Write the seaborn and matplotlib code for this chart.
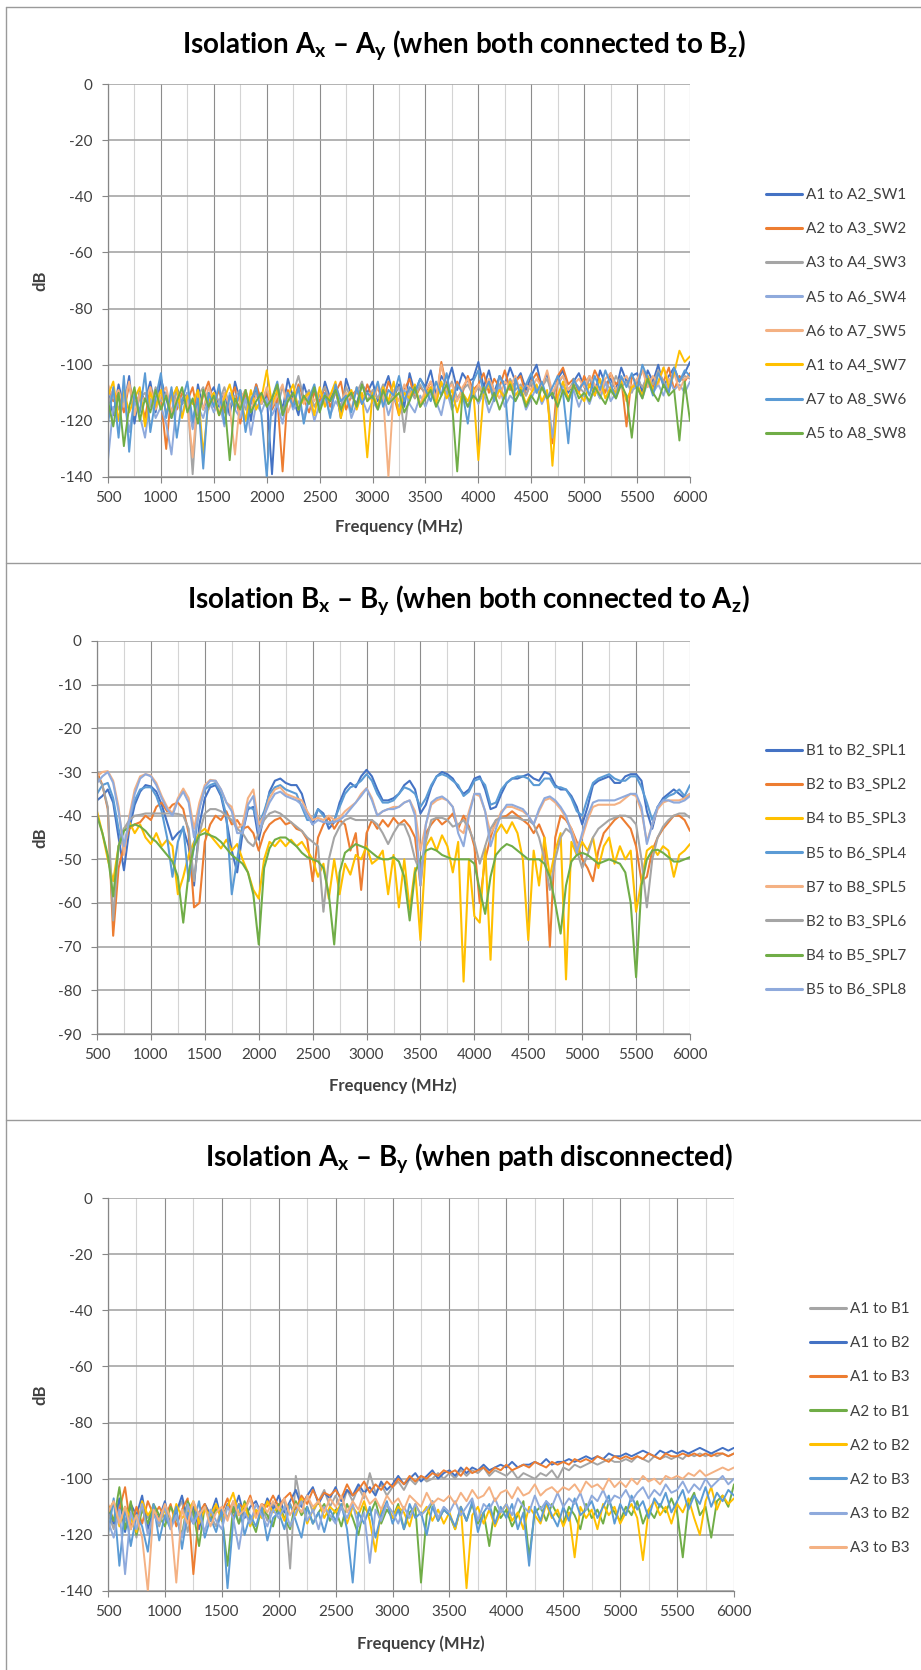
import numpy as np
import pandas as pd
import matplotlib
matplotlib.use("Agg")
import matplotlib.pyplot as plt
from matplotlib.lines import Line2D
from matplotlib.ticker import MultipleLocator
import seaborn as sns

# ---------------------------------------------------------------- data
F_START, F_STOP = 500, 6000   # MHz sweep, 50 MHz steps

# Panel 1 : Isolation Ax - Ay
P1_NAMES = ["A1 to A2_SW1", "A2 to A3_SW2", "A3 to A4_SW3", "A5 to A6_SW4",
            "A6 to A7_SW5", "A1 to A4_SW7", "A7 to A8_SW6", "A5 to A8_SW8"]
p1_sw1 = [-110, -118, -107, -115, -104, -121, -109, -113, -106, -117,
          -105, -112, -119, -108, -114, -110, -122, -107, -116, -111,
          -108, -115, -110, -118, -106, -113, -109, -120, -107, -114,
          -111, -139, -108, -116, -105, -112, -118, -107, -113, -109,
          -115, -106, -112, -108, -119, -105, -111, -114, -107, -110,
          -106, -113, -109, -104, -112, -107, -115, -103, -110, -105,
          -108, -102, -111, -104, -107, -101, -109, -103, -106, -105,
          -99, -108, -102, -110, -104, -107, -101, -106, -103, -109,
          -104, -100, -108, -103, -112, -105, -102, -110, -106, -103,
          -108, -104, -111, -102, -107, -105, -109, -101, -106, -104,
          -103, -110, -102, -106, -100, -108, -104, -101, -106, -103,
          -99]
p1_sw2 = [-108, -113, -110, -117, -107, -114, -111, -119, -108, -115,
          -112, -130, -109, -116, -110, -113, -108, -118, -111, -106,
          -114, -109, -117, -112, -108, -121, -110, -114, -107, -113,
          -110, -116, -112, -138, -109, -114, -107, -112, -117, -110,
          -113, -108, -115, -110, -106, -116, -111, -109, -114, -107,
          -112, -108, -114, -106, -111, -118, -109, -105, -112, -108,
          -110, -106, -113, -99, -108, -112, -106, -110, -104, -109,
          -107, -103, -110, -105, -108, -102, -109, -106, -104, -111,
          -106, -103, -108, -112, -128, -104, -101, -107, -105, -110,
          -104, -108, -102, -106, -110, -103, -107, -105, -122, -104,
          -107, -102, -105, -108, -103, -106, -101, -109, -104, -106,
          -103]
p1_sw3 = [-114, -109, -116, -111, -107, -118, -112, -110, -115, -108,
          -113, -110, -117, -109, -114, -112, -139, -111, -108, -116,
          -110, -113, -108, -115, -111, -109, -116, -112, -110, -114,
          -109, -112, -115, -108, -113, -110, -104, -112, -109, -115,
          -111, -108, -113, -110, -115, -108, -112, -110, -106, -113,
          -109, -112, -107, -114, -110, -108, -124, -109, -112, -107,
          -111, -108, -113, -107, -110, -106, -112, -109, -107, -111,
          -108, -111, -106, -110, -107, -112, -105, -109, -107, -111,
          -106, -110, -108, -105, -111, -107, -104, -109, -106, -108,
          -110, -105, -108, -112, -106, -109, -104, -108, -106, -110,
          -105, -108, -104, -107, -102, -106, -109, -103, -106, -104,
          -105]
p1_sw4 = [-134, -115, -120, -111, -124, -113, -118, -126, -112, -119,
          -115, -121, -132, -113, -118, -110, -123, -115, -119, -112,
          -117, -113, -122, -110, -116, -119, -112, -125, -114, -117,
          -112, -118, -114, -121, -110, -116, -113, -119, -111, -120,
          -114, -111, -118, -113, -116, -110, -119, -114, -112, -117,
          -113, -116, -110, -118, -112, -115, -109, -114, -117, -111,
          -115, -110, -113, -118, -109, -116, -112, -111, -115, -109,
          -114, -110, -117, -112, -108, -115, -111, -113, -109, -116,
          -112, -108, -114, -110, -126, -112, -107, -113, -109, -115,
          -110, -114, -108, -112, -106, -113, -110, -107, -112, -109,
          -108, -112, -106, -110, -107, -111, -105, -109, -107, -110,
          -106]
p1_sw5 = [-107, -112, -109, -115, -106, -118, -110, -113, -108, -116,
          -111, -108, -117, -112, -109, -114, -133, -110, -116, -108,
          -113, -118, -110, -115, -132, -112, -109, -116, -111, -114,
          -108, -115, -111, -107, -117, -112, -109, -114, -110, -113,
          -109, -114, -111, -107, -113, -110, -116, -108, -112, -110,
          -113, -108, -111, -140, -109, -113, -107, -111, -108, -114,
          -109, -106, -112, -100, -109, -107, -113, -108, -105, -111,
          -107, -110, -105, -109, -112, -106, -108, -104, -110, -107,
          -109, -105, -108, -102, -110, -106, -104, -109, -107, -105,
          -108, -104, -107, -110, -105, -103, -109, -106, -104, -108,
          -105, -102, -108, -104, -107, -101, -106, -103, -109, -105,
          -104]
p1_sw7 = [-111, -106, -120, -109, -117, -112, -108, -122, -110, -115,
          -109, -117, -112, -108, -119, -111, -114, -109, -132, -113,
          -110, -118, -112, -107, -115, -111, -120, -109, -116, -112,
          -102, -114, -109, -117, -111, -107, -116, -112, -110, -118,
          -108, -115, -111, -106, -119, -112, -109, -116, -110, -133,
          -110, -115, -108, -113, -106, -118, -110, -112, -107, -115,
          -111, -108, -114, -106, -112, -109, -117, -110, -113, -108,
          -134, -110, -107, -113, -109, -112, -106, -111, -108, -114,
          -110, -107, -113, -109, -136, -111, -106, -112, -108, -110,
          -113, -107, -111, -105, -112, -108, -110, -106, -113, -108,
          -107, -111, -104, -109, -106, -101, -108, -103, -95, -99,
          -97]
p1_sw6 = [-121, -108, -126, -104, -131, -110, -117, -103, -124, -112,
          -103, -119, -108, -126, -113, -106, -120, -112, -137, -110,
          -115, -107, -121, -111, -116, -109, -124, -113, -108, -118,
          -140, -112, -106, -118, -110, -115, -108, -121, -112, -107,
          -116, -110, -119, -107, -113, -111, -117, -108, -114, -110,
          -112, -106, -115, -109, -111, -104, -113, -108, -110, -105,
          -109, -113, -106, -111, -103, -114, -107, -110, -121, -106,
          -102, -110, -106, -113, -104, -108, -132, -105, -111, -107,
          -103, -110, -106, -112, -108, -104, -110, -128, -105, -109,
          -106, -111, -104, -109, -102, -107, -112, -104, -108, -103,
          -109, -100, -105, -111, -103, -107, -110, -101, -106, -102,
          -104]
p1_sw8 = [-113, -122, -110, -129, -115, -108, -120, -112, -117, -109,
          -116, -111, -119, -113, -108, -117, -112, -121, -109, -115,
          -111, -118, -113, -134, -112, -116, -109, -117, -113, -110,
          -115, -112, -107, -118, -113, -110, -116, -111, -114, -108,
          -117, -111, -113, -109, -116, -112, -110, -115, -107, -113,
          -111, -116, -109, -114, -112, -110, -117, -113, -108, -115,
          -112, -109, -115, -111, -107, -113, -138, -110, -115, -111,
          -113, -108, -114, -110, -116, -111, -107, -113, -109, -115,
          -111, -114, -108, -112, -110, -115, -109, -113, -107, -112,
          -110, -113, -108, -111, -114, -109, -112, -107, -111, -126,
          -108, -112, -105, -110, -113, -107, -111, -109, -127, -106,
          -120]
P1_SERIES = [p1_sw1, p1_sw2, p1_sw3, p1_sw4, p1_sw5, p1_sw7, p1_sw6, p1_sw8]

# Panel 2 : Isolation Bx - By
P2_NAMES = ["B1 to B2_SPL1", "B2 to B3_SPL2", "B4 to B5_SPL3", "B5 to B6_SPL4",
            "B7 to B8_SPL5", "B2 to B3_SPL6", "B4 to B5_SPL7", "B5 to B6_SPL8"]
p2_spl1 = [-36.5, -35.5, -34, -37, -45, -52.5, -43, -37.5, -34.5, -33,
           -33.3, -34.5, -37.5, -41.5, -45.5, -44, -43, -47, -56, -42,
           -36, -33.5, -33, -35.5, -41, -48, -53, -44, -38.5, -38,
           -45.5, -40, -34.5, -32, -31.5, -32.5, -33, -33, -35, -39.5,
           -42, -38.5, -39.5, -43, -41.5, -37, -34, -32.5, -33.5, -31,
           -29.5, -31, -34, -36.5, -36.5, -36, -35, -33, -32, -34,
           -39.5, -37.5, -33.5, -31, -30, -30.5, -31.5, -33.5, -35, -34,
           -31.5, -31, -34, -38.5, -38, -35, -32.5, -31.5, -31.5, -31,
           -30.5, -31.5, -32, -30, -30.5, -33, -34, -34, -35.5, -38,
           -42, -38, -33, -32, -31.5, -31, -32.5, -32.5, -31, -30.5,
           -30.5, -32, -39, -43, -38, -36, -35, -34, -35, -36,
           -35]
p2_spl2 = [-30, -33, -38.5, -67.5, -52, -47, -43, -42, -41.5, -40,
           -41, -38, -37, -39, -37.5, -37, -38.5, -44, -61, -60,
           -46, -42, -40, -41, -39, -42, -41, -43, -42.5, -44,
           -48, -44, -42, -41, -40.5, -42, -41.5, -43, -43.5, -45.5,
           -55, -45, -42, -40.5, -43, -41, -42, -48, -44, -57,
           -44, -41, -43, -41, -42.5, -40.5, -42, -41, -42.5, -45,
           -56, -44, -42, -40.5, -42, -41, -39.5, -43, -40, -42.5,
           -47, -60, -50, -45, -41, -40.5, -40, -39, -40, -41,
           -42, -44, -42, -45, -70, -45, -40, -41, -43, -46,
           -50, -52, -55, -48, -44, -42.5, -41, -40, -41.5, -43,
           -47, -55, -54, -48, -45, -43, -41.5, -40, -40, -41,
           -43.5]
p2_spl3 = [-39, -44, -50, -55, -47, -43, -41.5, -44, -42, -45,
           -46.5, -44, -47, -45.5, -47, -58, -54, -49, -46, -44,
           -43, -44.5, -46, -47.5, -45.5, -48, -46.5, -50, -53, -57,
           -59, -50, -46, -47, -45.5, -47, -45.5, -47, -46, -48,
           -50, -54, -51, -59, -50, -58, -51, -53.5, -49, -50,
           -47, -51, -50, -48, -58, -49, -61, -50, -61.5, -52,
           -68.5, -47, -45, -48, -44.5, -47, -53, -46, -78, -50,
           -63, -64.5, -47, -73, -44, -42, -44, -41.5, -44, -50,
           -68.5, -48, -56, -45, -54, -48, -44, -77.5, -46, -49,
           -46, -48, -45, -52, -47, -45, -51, -47, -50, -48,
           -62, -55, -48, -47, -49, -47, -48, -54, -49, -48,
           -46.5]
p2_spl4 = [-35, -33, -32.5, -36, -43, -48, -41, -36.5, -34, -33.5,
           -33.5, -35.5, -39, -45, -54, -46, -42.5, -55, -47, -38,
           -34, -33, -32.5, -35, -40, -58, -50, -42, -38, -38.5,
           -42, -39, -35, -33.5, -33, -34, -34.5, -35, -38, -41,
           -41, -38.5, -40, -42, -41, -38, -35, -33.5, -33, -32,
           -30.5, -32, -35, -37, -37, -36.5, -35, -33.5, -34, -35,
           -38, -36, -33, -31, -30.5, -31, -32, -33, -35.5, -34.5,
           -32, -31.5, -33, -37.5, -37, -34, -32.5, -31.5, -31, -31,
           -31.5, -33, -33, -31.5, -31.5, -33.5, -33.5, -34, -36, -39,
           -40, -36, -32.5, -31.5, -31, -30.5, -31.5, -32, -32, -31,
           -31, -33.5, -37, -41, -38, -36.5, -35.5, -35, -34, -35.5,
           -33]
p2_spl5 = [-31, -30, -29.8, -32, -38, -49, -40, -34, -31, -30.5,
           -30.8, -32.5, -35.5, -38, -39.5, -36, -33.8, -36, -43, -37,
           -33, -31.8, -32, -34, -37, -38, -43, -42, -36, -34,
           -42, -40, -36, -34, -33.5, -35, -35.5, -36, -36.5, -39,
           -41, -40.5, -41, -40, -41, -40.5, -39, -38, -37, -35,
           -33.7, -36, -40, -39, -38.5, -38, -38, -37, -36.5, -39,
           -48, -42, -37.5, -36.5, -36, -36.5, -38, -43, -44, -39,
           -35, -35.5, -39, -44, -42, -39, -38, -38, -38.5, -39,
           -40, -42, -39, -36.5, -36, -37, -38.5, -40.5, -43, -47,
           -45, -41, -38, -37.5, -37.5, -37.5, -37.5, -37, -36, -35,
           -35.5, -39, -46, -42, -38.5, -37, -36.5, -36.5, -36.5, -36,
           -35]
p2_spl6 = [-31, -33, -38, -64, -47, -43, -41, -40, -39.8, -39.5,
           -39.5, -39.5, -39.5, -39.5, -39.5, -39.6, -40, -43, -55, -44,
           -39.5, -38.5, -38.5, -39, -40, -41, -43, -44, -46, -47,
           -44, -41, -39.5, -39, -39.5, -40.5, -41.5, -42.5, -43.5, -45,
           -46, -47, -62, -50, -45, -42.5, -41, -40.5, -41, -41,
           -41, -41, -42, -44, -46.5, -44, -42, -42, -45, -50,
           -53, -46, -41, -40.5, -40.5, -41, -42.5, -42, -41, -43,
           -46, -51, -47, -43, -41, -40.5, -40.5, -40.5, -40.5, -41,
           -41, -42, -45, -50, -57, -50, -45, -43, -44, -48,
           -52, -49, -45, -43, -42, -41, -40.5, -40, -40, -40.5,
           -42, -50, -61, -50, -45, -42.5, -41, -40, -39.5, -39.5,
           -40.5]
p2_spl7 = [-40, -44, -49, -58.5, -47, -43.5, -42.5, -42, -42.5, -43.5,
           -45, -46, -47.5, -49, -50.5, -54, -64.5, -53, -47, -44.5,
           -44, -44.5, -45, -46, -47.5, -49, -50, -51, -53, -58,
           -69.5, -52, -47.5, -45.5, -45, -45, -46, -47, -48.5, -49.5,
           -50, -50.5, -52, -58, -69.5, -53, -48.5, -47.5, -46.5, -47,
           -47.5, -48.5, -49.5, -50, -50, -49.5, -50.5, -54, -64, -53,
           -50, -48, -47.5, -48, -49, -49.5, -50, -50, -50, -50,
           -51, -57, -62.5, -54, -49, -47.5, -46.5, -47, -48, -49,
           -50, -50, -50, -51, -54, -60, -67, -56, -50.5, -49,
           -48.5, -49, -50, -51, -50.5, -50, -50.5, -51, -53, -60,
           -77, -56, -50, -48, -47.8, -48.5, -49.5, -50.5, -50.5, -50,
           -49.5]
p2_spl8 = [-32.5, -31, -30, -32.5, -39, -47, -41, -35, -31.5, -30.5,
           -31, -33, -36, -38.5, -40, -36.5, -34.5, -37, -45, -38.5,
           -33.5, -32, -32, -34, -37, -39, -44, -44, -37.5, -35.5,
           -44, -40, -37, -35, -34.5, -35.5, -36, -36.5, -37.5, -40,
           -42, -41, -41.5, -41.5, -41.5, -41, -40, -38.5, -37, -35.5,
           -33.8, -36.5, -40, -39, -38.5, -38.5, -38, -37, -36.5, -40,
           -56, -42, -37, -36, -35.6, -36.5, -38, -44, -47, -40,
           -35, -35, -39, -47, -43, -39.5, -37.5, -37.5, -38, -38.5,
           -40, -42, -38.5, -36, -35.6, -36.5, -38, -40, -44, -48.5,
           -44, -40, -37, -36.5, -36.5, -36.5, -36.5, -36, -35.5, -35,
           -35, -38, -46.5, -42, -38, -36.5, -36.5, -37, -37, -36.5,
           -35.5]
P2_SERIES = [p2_spl1, p2_spl2, p2_spl3, p2_spl4, p2_spl5, p2_spl6, p2_spl7, p2_spl8]

# Panel 3 : Isolation Ax - By
P3_NAMES = ["A1 to B1", "A1 to B2", "A1 to B3", "A2 to B1",
            "A2 to B2", "A2 to B3", "A3 to B2", "A3 to B3"]
p3_a1b1 = [-112, -118, -108, -115, -110, -121, -109, -114, -111, -117,
           -110, -116, -112, -108, -119, -111, -115, -109, -113, -117,
           -110, -114, -108, -116, -111, -107, -113, -110, -115, -109,
           -112, -107, -132, -99, -110, -106, -112, -108, -104, -110,
           -106, -111, -104, -108, -103, -107, -98, -105, -102, -106,
           -103, -101, -104, -100, -102, -99, -101, -100, -98, -100,
           -98, -100, -97, -99, -97, -98, -96, -99, -97, -98,
           -99, -97, -100, -98, -99, -100, -98, -99, -97, -100,
           -96, -97, -95, -96, -95, -94, -95, -94, -93, -94,
           -94, -93, -94, -92, -93, -94, -92, -93, -92, -93,
           -92, -93, -91, -92, -91, -92, -91, -92, -91, -92,
           -91]
p3_a1b2 = [-110, -116, -107, -119, -109, -113, -106, -118, -111, -114,
           -108, -117, -112, -106, -115, -110, -118, -109, -113, -107,
           -115, -109, -112, -106, -114, -110, -108, -113, -107, -111,
           -106, -112, -108, -104, -110, -106, -103, -109, -105, -107,
           -103, -108, -104, -106, -102, -105, -103, -106, -101, -104,
           -102, -99, -102, -100, -98, -101, -99, -97, -100, -98,
           -97, -99, -96, -98, -96, -97, -95, -97, -96, -95,
           -96, -94, -96, -95, -95, -94, -95, -93, -95, -94,
           -94, -93, -94, -93, -92, -93, -92, -93, -91, -92,
           -92, -91, -92, -91, -90, -91, -92, -90, -91, -90,
           -91, -90, -91, -90, -89, -90, -91, -90, -89, -90,
           -89]
p3_a1b3 = [-109, -115, -111, -103, -118, -110, -116, -108, -113, -110,
           -114, -109, -117, -111, -107, -134, -112, -109, -115, -110,
           -112, -107, -114, -109, -111, -106, -113, -109, -110, -106,
           -110, -107, -105, -111, -106, -109, -104, -108, -105, -106,
           -104, -107, -102, -106, -104, -101, -105, -102, -104, -101,
           -103, -100, -102, -99, -101, -99, -100, -98, -99, -97,
           -98, -97, -99, -96, -98, -97, -96, -98, -96, -97,
           -95, -97, -96, -95, -96, -94, -95, -96, -94, -95,
           -94, -95, -93, -94, -93, -94, -92, -93, -94, -92,
           -93, -92, -93, -92, -93, -91, -92, -93, -91, -92,
           -92, -91, -92, -91, -92, -91, -92, -91, -91, -92,
           -91]
p3_a2b1 = [-110, -115, -103, -118, -108, -120, -111, -116, -109, -113,
           -117, -110, -114, -120, -108, -112, -124, -110, -115, -111,
           -113, -131, -110, -116, -108, -114, -119, -110, -113, -117,
           -109, -114, -118, -108, -113, -110, -116, -112, -109, -115,
           -111, -117, -109, -114, -120, -110, -113, -108, -116, -111,
           -114, -109, -118, -112, -110, -137, -113, -108, -115, -111,
           -113, -118, -110, -115, -109, -116, -112, -124, -110, -114,
           -111, -117, -113, -108, -128, -112, -110, -115, -109, -113,
           -116, -110, -113, -118, -109, -114, -111, -116, -108, -112,
           -115, -110, -113, -108, -116, -111, -114, -109, -112, -107,
           -112, -128, -109, -105, -113, -110, -121, -108, -106, -110,
           -102]
p3_a2b2 = [-112, -108, -117, -110, -114, -119, -108, -113, -110, -116,
           -111, -117, -109, -114, -112, -108, -116, -111, -113, -109,
           -115, -110, -105, -113, -109, -117, -111, -114, -108, -112,
           -110, -115, -109, -113, -107, -116, -111, -108, -114, -110,
           -112, -109, -116, -110, -113, -108, -115, -126, -111, -109,
           -114, -110, -112, -117, -109, -113, -110, -115, -111, -116,
           -112, -118, -110, -139, -113, -110, -116, -111, -117, -112,
           -109, -115, -112, -118, -110, -113, -116, -109, -114, -111,
           -117, -112, -128, -110, -114, -111, -118, -109, -113, -110,
           -116, -112, -109, -114, -129, -111, -108, -113, -110, -116,
           -109, -112, -107, -114, -120, -108, -103, -111, -106, -109,
           -107]
p3_a2b3 = [-120, -107, -131, -110, -124, -113, -117, -126, -109, -122,
           -113, -118, -110, -125, -112, -116, -108, -121, -114, -119,
           -111, -139, -115, -109, -120, -113, -117, -110, -122, -114,
           -112, -118, -109, -115, -121, -110, -116, -112, -119, -111,
           -115, -109, -118, -137, -112, -116, -110, -121, -113, -108,
           -116, -111, -118, -109, -114, -112, -120, -110, -115, -111,
           -113, -117, -110, -115, -108, -119, -112, -109, -116, -110,
           -114, -109, -118, -112, -131, -110, -115, -108, -113, -117,
           -110, -115, -107, -113, -111, -108, -114, -110, -106, -116,
           -109, -113, -106, -111, -108, -114, -107, -110, -105, -112,
           -108, -104, -111, -106, -109, -103, -110, -105, -108, -104,
           -106]
p3_a3b2 = [-115, -121, -111, -134, -112, -118, -109, -120, -113, -116,
           -110, -118, -113, -121, -109, -116, -112, -119, -111, -115,
           -118, -110, -114, -125, -112, -116, -109, -113, -117, -111,
           -114, -110, -117, -112, -108, -115, -111, -118, -110, -113,
           -116, -110, -114, -109, -117, -112, -130, -111, -115, -109,
           -112, -116, -110, -114, -109, -113, -111, -108, -114, -110,
           -112, -108, -113, -110, -107, -115, -109, -111, -107, -112,
           -109, -113, -107, -110, -112, -106, -111, -108, -110, -105,
           -110, -107, -109, -105, -111, -106, -108, -104, -109, -106,
           -107, -104, -108, -105, -103, -107, -104, -106, -102, -105,
           -104, -101, -105, -102, -104, -100, -103, -101, -99, -102,
           -100]
p3_a3b3 = [-112, -108, -116, -110, -118, -113, -121, -140, -111, -115,
           -109, -114, -137, -111, -116, -108, -113, -110, -117, -112,
           -110, -115, -108, -113, -111, -107, -114, -109, -112, -108,
           -111, -107, -113, -109, -112, -106, -110, -108, -112, -107,
           -110, -106, -112, -108, -111, -105, -109, -107, -111, -106,
           -109, -107, -111, -106, -108, -110, -105, -109, -107, -108,
           -106, -109, -105, -108, -104, -107, -106, -103, -108, -105,
           -104, -107, -103, -106, -105, -102, -106, -104, -103, -105,
           -103, -104, -102, -105, -101, -103, -102, -104, -100, -103,
           -101, -103, -100, -102, -99, -101, -100, -102, -99, -100,
           -99, -100, -98, -99, -97, -99, -98, -97, -96, -97,
           -96]
P3_SERIES = [p3_a1b1, p3_a1b2, p3_a1b3, p3_a2b1, p3_a2b2, p3_a2b3, p3_a3b2, p3_a3b3]

TITLES = [r"Isolation A$_\mathrm{x}$ – A$_\mathrm{y}$ (when both connected to B$_\mathrm{z}$)",
          r"Isolation B$_\mathrm{x}$ – B$_\mathrm{y}$ (when both connected to A$_\mathrm{z}$)",
          r"Isolation A$_\mathrm{x}$ – B$_\mathrm{y}$ (when path disconnected)"]

# ---------------------------------------------------------------- style
BLUE, ORANGE, GRAY, GOLD = "#4472C4", "#ED7D31", "#A5A5A5", "#FFC000"
MBLUE, GREEN, LBLUE, LORANGE = "#5B9BD5", "#70AD47", "#8FAADC", "#F4B183"
P1_COLORS = [BLUE, ORANGE, GRAY, LBLUE, LORANGE, GOLD, MBLUE, GREEN]
P2_COLORS = [BLUE, ORANGE, GOLD, MBLUE, LORANGE, GRAY, GREEN, LBLUE]
P3_COLORS = [GRAY, BLUE, ORANGE, GREEN, GOLD, MBLUE, LBLUE, LORANGE]

sns.set_theme(style="white")
plt.rcParams["font.family"] = ["Lato", "DejaVu Sans"]
plt.rcParams["axes.unicode_minus"] = False
plt.rcParams["mathtext.fontset"] = "custom"
plt.rcParams["mathtext.rm"] = "Lato:bold"
plt.rcParams["mathtext.it"] = "Lato:bold"
plt.rcParams["mathtext.bf"] = "Lato:bold"

W, H = 921, 1670
fig = plt.figure(figsize=(W / 100, H / 100), dpi=100)
fig.patch.set_facecolor("white")

TXT = "#404040"
AXC = "#868686"


def fx(px):
    return px / W


def fy(py):
    return 1 - py / H


def long_df(names, series):
    frames = []
    for n, v in zip(names, series):
        frames.append(pd.DataFrame({"MHz": np.linspace(F_START, F_STOP, len(v)),
                                    "dB": v, "series": n}))
    return pd.concat(frames, ignore_index=True)


def panel(box, names, series, colors, ylo, ystep, lw, title, title_xy,
          xlabel_xy, ylabel_x, legend_xy):
    l, t, r, b = box
    ax = fig.add_axes([fx(l), fy(b), fx(r - l), (b - t) / H])
    df = long_df(names, series)
    sns.lineplot(data=df, x="MHz", y="dB", hue="series", hue_order=names,
                 palette=colors, estimator=None, sort=False, linewidth=lw,
                 legend=False, ax=ax)
    ax.set_xlim(500, 6000)
    ax.set_ylim(ylo, 0)
    ax.xaxis.set_major_locator(MultipleLocator(500))
    ax.xaxis.set_minor_locator(MultipleLocator(250))
    ax.yaxis.set_major_locator(MultipleLocator(ystep))
    ax.set_axisbelow(True)
    ax.grid(True, axis="x", which="major", color="#8c8c8c", lw=0.8)
    ax.grid(True, axis="x", which="minor", color="#d4d4d4", lw=0.8)
    ax.grid(True, axis="y", which="major", color="#a6a6a6", lw=1.2)
    for s in ["top", "right"]:
        ax.spines[s].set_visible(False)
    for s in ["left", "bottom"]:
        ax.spines[s].set_color(AXC)
        ax.spines[s].set_linewidth(0.9)
    ax.tick_params(axis="both", which="major", direction="out", length=4,
                   width=0.8, color=AXC, labelsize=11, labelcolor=TXT,
                   left=True, bottom=True)
    ax.tick_params(axis="x", which="major", pad=6)
    ax.tick_params(axis="y", which="major", pad=7)
    ax.tick_params(which="minor", length=0)
    ax.set_xlabel("")
    ax.set_ylabel("")
    fig.text(fx(title_xy[0]), fy(title_xy[1]), title, ha="center", va="center",
             fontsize=20, fontweight="bold", color="black")
    fig.text(fx(xlabel_xy[0]), fy(xlabel_xy[1]), "Frequency (MHz)", ha="center",
             va="center", fontsize=12, fontweight="bold", color=TXT)
    fig.text(fx(ylabel_x), fy((t + b) / 2), "dB", ha="center", va="center",
             rotation=90, fontsize=12, fontweight="bold", color=TXT)
    handles = [Line2D([], [], color=c, lw=2.2) for c in colors]
    ax.legend(handles, names, loc="upper left",
              bbox_to_anchor=(fx(legend_xy[0]), fy(legend_xy[1])),
              bbox_transform=fig.transFigure, frameon=False, fontsize=11,
              labelcolor=TXT, handlelength=2.35, handletextpad=0.3,
              labelspacing=1.32, borderpad=0, borderaxespad=0)
    return ax


panel((108, 84, 690, 477), P1_NAMES, P1_SERIES, P1_COLORS, -140, 20, 1.4,
      TITLES[0], (464, 45), (399, 527), 40, (766, 188))
panel((97, 641, 690, 1034), P2_NAMES, P2_SERIES, P2_COLORS, -90, 10, 1.5,
      TITLES[1], (468, 600), (393, 1086), 40, (766, 744))
panel((108, 1198, 734, 1591), P3_NAMES, P3_SERIES, P3_COLORS, -140, 20, 1.4,
      TITLES[2], (469, 1158), (421, 1644), 40, (810, 1302))

# chart borders / separators
BORDER = "#9a9a9a"
for y in (7, 563, 1120):
    fig.add_artist(Line2D([fx(6), 1], [fy(y), fy(y)], color=BORDER, lw=1.0,
                          transform=fig.transFigure))
fig.add_artist(Line2D([fx(6), fx(6)], [fy(7), 0], color=BORDER, lw=1.0,
                      transform=fig.transFigure))

fig.savefig("out.png", dpi=100, facecolor="white")
